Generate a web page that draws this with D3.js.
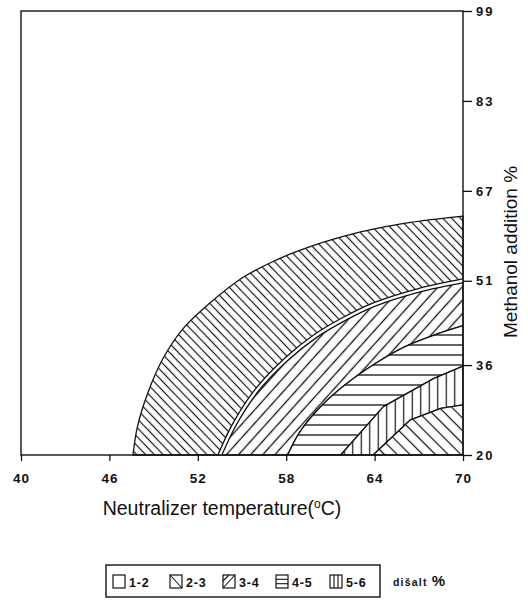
<!DOCTYPE html>
<html>
<head>
<meta charset="utf-8">
<script src="https://cdn.jsdelivr.net/npm/d3@7"></script>
<style>
  body { margin: 0; background: #fff; }
  text { font-family: "Liberation Sans", Arial, sans-serif; fill: #111; }
</style>
</head>
<body>
<div id="chart"></div>
<script>
var w = 528;
var h = 601;

// axis ticks
var tempTicks = [40, 46, 52, 58, 64, 70];
var methTicks = [20, 36, 51, 67, 83, 99];

// region boundaries, [temperature, methanol %]
var edge12 = [[47.6, 20], [47.9, 25], [48.6, 31], [49.6, 37], [51.0, 42.5], [52.8, 47.0],
  [55.0, 51.5], [57.0, 54.3], [59.0, 56.5], [62.0, 59.0], [66.0, 61.2], [70.0, 62.5]];
var edge23 = [[53.5, 20], [54.5, 25.5], [56.0, 31.5], [58.0, 37.0], [60.0, 41.2], [62.0, 44.3],
  [64.0, 46.8], [67.0, 49.3], [70.0, 51.0]];
var edge34 = [[58.1, 20], [58.9, 24], [60.3, 28.5], [62.0, 32.5], [64.0, 36.2], [66.0, 39.2],
  [68.0, 41.3], [70.0, 43.0]];
var edge45 = [[61.7, 20], [64.6, 28.6], [68.0, 33.6], [70.0, 35.8]];
var edge56 = [[63.9, 20], [66.4, 26.2], [68.5, 28.3], [70.0, 28.9]];

var legendLabels = ["1-2", "2-3", "3-4", "4-5", "5-6"];

var plot = { left: 21, right: 463, top: 11, bottom: 455 };

var x = d3.scaleLinear().domain([40, 70]).range([plot.left, plot.right]);
var y = d3.scaleLinear().domain([20, 99]).range([plot.bottom, plot.top]);

var svg = d3.select("#chart").append("svg")
  .attr("width", w)
  .attr("height", h);

// hatch patterns
var defs = svg.append("defs");
function hatch(id, size, angle, sw) {
  var p = defs.append("pattern")
    .attr("id", id)
    .attr("patternUnits", "userSpaceOnUse")
    .attr("width", size)
    .attr("height", size)
    .attr("patternTransform", "rotate(" + angle + ")");
  p.append("rect").attr("width", size).attr("height", size).attr("fill", "#fff");
  p.append("line")
    .attr("x1", size / 2).attr("y1", 0)
    .attr("x2", size / 2).attr("y2", size)
    .attr("stroke", "#111")
    .attr("stroke-width", sw);
}
hatch("h23", 6.3, -44, 1.15);
hatch("h34", 9, 42, 1.3);
hatch("h45", 10, 90, 1.3);
hatch("h56", 8.5, 0, 1.2);
hatch("hlow", 9, -45, 1.2);

var smooth = d3.line().x(d => x(d[0])).y(d => y(d[1])).curve(d3.curveCatmullRom);
var straight = d3.line().x(d => x(d[0])).y(d => y(d[1]));

function edgePath(pts, curved) {
  return curved ? smooth(pts) : straight(pts);
}

// closed shape between an upper edge and a lower edge (both run left to right)
function band(upper, upperCurved, lower, lowerCurved) {
  var back = lower.slice().reverse();
  return edgePath(upper, upperCurved) + "L" + edgePath(back, lowerCurved).slice(1) + "Z";
}

var regions = [
  { d: band(edge12, true, edge23, true), fill: "url(#h23)" },
  { d: band(edge23, true, edge34, true), fill: "url(#h34)" },
  { d: band(edge34, true, edge45, false), fill: "url(#h45)" },
  { d: band(edge45, false, edge56, false), fill: "url(#h56)" },
  { d: straight(edge56.concat([[70, 20]])) + "Z", fill: "url(#hlow)" }
];

svg.selectAll("path.region")
  .data(regions)
  .enter()
  .append("path")
  .attr("class", "region")
  .attr("d", d => d.d)
  .attr("fill", d => d.fill)
  .attr("stroke", "#111")
  .attr("stroke-width", 1.3)
  .attr("stroke-linejoin", "round");

// the 2-3 / 3-4 border is a double line
svg.append("path")
  .attr("d", smooth(edge23))
  .attr("fill", "none")
  .attr("stroke", "#111")
  .attr("stroke-width", 5);
svg.append("path")
  .attr("d", smooth(edge23))
  .attr("fill", "none")
  .attr("stroke", "#fff")
  .attr("stroke-width", 2.4);

// frame
svg.append("rect")
  .attr("x", plot.left)
  .attr("y", plot.top)
  .attr("width", plot.right - plot.left)
  .attr("height", plot.bottom - plot.top)
  .attr("fill", "none")
  .attr("stroke", "#111")
  .attr("stroke-width", 1.4);

// bottom axis
var xAxis = svg.append("g")
  .attr("transform", "translate(0," + plot.bottom + ")")
  .call(d3.axisBottom(x).tickValues(tempTicks).tickSize(6).tickPadding(12));
xAxis.select(".domain").remove();
xAxis.selectAll("line").attr("stroke", "#111").attr("stroke-width", 1.3);
xAxis.selectAll("text")
  .attr("font-size", 13.5)
  .attr("font-weight", "bold")
  .attr("letter-spacing", 1)
  .attr("fill", "#111");

// right axis
var yAxis = svg.append("g")
  .attr("transform", "translate(" + plot.right + ",0)")
  .call(d3.axisRight(y).tickValues(methTicks).tickSize(9).tickPadding(4));
yAxis.select(".domain").remove();
yAxis.selectAll("line").attr("stroke", "#111").attr("stroke-width", 1.3);
yAxis.selectAll("text")
  .attr("font-size", 13)
  .attr("font-weight", "bold")
  .attr("letter-spacing", 2)
  .attr("fill", "#111");

// axis titles
var xt = svg.append("text")
  .attr("x", 222)
  .attr("y", 515)
  .attr("text-anchor", "middle")
  .attr("font-size", 19.5);
xt.append("tspan").text("Neutralizer temperature(");
xt.append("tspan").attr("dy", -7).attr("font-size", 12).text("o");
xt.append("tspan").attr("dy", 7).text("C)");

svg.append("text")
  .attr("transform", "translate(517,252) rotate(-90)")
  .attr("text-anchor", "middle")
  .attr("font-size", 19)
  .text("Methanol addition %");

// legend
var lg = svg.append("g");
lg.append("rect")
  .attr("x", 106).attr("y", 565)
  .attr("width", 274).attr("height", 32)
  .attr("fill", "none")
  .attr("stroke", "#111")
  .attr("stroke-width", 1.4);

var legendX = [113, 170, 223, 276, 330];
// inner strokes of each legend box, in box units (12 x 13)
var swatchLines = [
  [],
  [[0, 0, 12, 13]],
  [[0, 13, 12, 0], [0, 6, 6, 0]],
  [[0, 4.3, 12, 4.3], [0, 8.7, 12, 8.7]],
  [[4, 0, 4, 13], [8, 0, 8, 13]]
];

var items = lg.selectAll("g.item")
  .data(legendLabels)
  .enter()
  .append("g")
  .attr("class", "item")
  .attr("transform", (d, i) => "translate(" + legendX[i] + ",575)");
items.append("rect")
  .attr("width", 12).attr("height", 13)
  .attr("fill", "#fff")
  .attr("stroke", "#111")
  .attr("stroke-width", 1.2);
items.selectAll("line")
  .data((d, i) => swatchLines[i])
  .enter()
  .append("line")
  .attr("x1", d => d[0]).attr("y1", d => d[1])
  .attr("x2", d => d[2]).attr("y2", d => d[3])
  .attr("stroke", "#111")
  .attr("stroke-width", 1.1);
items.append("text")
  .attr("x", 16).attr("y", 11.5)
  .attr("font-size", 12.5)
  .attr("font-weight", "bold")
  .attr("letter-spacing", 0.8)
  .text(d => d);

var unit = svg.append("text")
  .attr("x", 393).attr("y", 586)
  .attr("font-weight", "bold");
unit.append("tspan").attr("font-size", 10.5).attr("letter-spacing", 1.2).text("dišalt ");
unit.append("tspan").attr("font-size", 15).text("%");
</script>
</body>
</html>
